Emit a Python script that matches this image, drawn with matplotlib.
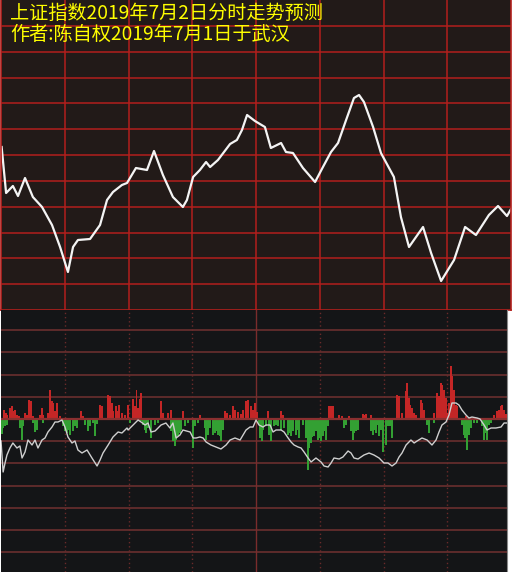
import matplotlib.pyplot as plt
import numpy as np

plt.rcParams['font.family'] = ['Noto Sans CJK SC', 'DejaVu Sans']

# forecast curve, minutes since open vs level
top_t = [0.3, 2.4, 5.6, 8, 11.3, 15, 19.3, 24, 27.8, 31.5, 33.9, 36.2, 41.9, 46.6, 49.9,
         52.7, 56.9, 59.3, 63.5, 68.7, 72, 76.2, 80.9, 85.6, 87.5, 90.4, 93.6, 96.5, 98.4,
         102.1, 107.8, 111, 113.4, 115.8, 119.5, 124.2, 127, 131.8, 134.1, 137.4, 142.1,
         147.8, 151.5, 155.3, 158.6, 162.4, 166.1, 168.5, 170.8, 175.1, 178.8, 184.9,
         188.2, 192, 198.6, 202.4, 207.1, 213.2, 218.4, 223.5, 229.6, 233.9, 238.1, 240]
top_v = [163, 117, 124, 114, 132, 113, 103, 85, 63, 38, 63, 70, 71, 85, 110,
         118, 125, 127, 142, 140, 159, 135, 113, 103, 110, 133, 140, 148, 143,
         150, 166, 170, 180, 195, 189, 183, 162, 167, 158, 157, 142,
         128, 143, 158, 167, 190, 212, 215, 208, 183, 157, 133,
         93, 63, 83, 57, 29, 50, 83, 75, 95, 104, 94, 101]

# lower panel line
net_t = [0, 1, 1.9, 2.8, 4.2, 5.6, 7.5, 8.9, 9.9, 11.3, 12.7, 14.6, 16, 17.4, 19.3, 20.7,
         22.1, 24, 25.4, 26.8, 28.7, 30.1, 31.5, 33.4, 34.8, 36.2, 38.1, 40.5, 42.8, 45.2,
         46.6, 48, 50.4, 52.7, 55.1, 56.9, 59.3, 59.8, 63.1, 64.5, 65.9, 67.8, 69.2, 70.6,
         72.5, 73.9, 75.3, 77.6, 79.5, 80.9, 82.4, 84.2, 85.6, 89, 90.4, 91.8, 93.6, 95.1,
         96.5, 98.8, 101.2, 103.5, 105.9, 107.8, 110.1, 112.5, 113.9, 115.3, 117.2, 118.6,
         120, 121.4, 123.3, 124.7, 126.6, 128, 129.4, 131.8, 133.2, 135.1, 136.5, 137.9,
         139.8, 141.2, 142.6, 144.5, 145.9, 148.2, 150.6, 152, 153.9, 155.3, 156.7, 159.1,
         160.9, 163.3, 164.7, 166.1, 168, 169.4, 170.8, 173.2, 175.5, 177.9, 180.2, 182.1,
         184, 185.9, 187.3, 188.7, 190.6, 192.9, 194.4, 195.8, 198.1, 200.5, 202.8, 204.7,
         206.1, 207.5, 209.4, 210.8, 212.2, 214.1, 215.5, 216.9, 218.8, 220.2, 221.6, 224,
         225.4, 227.3, 228.7, 230.6, 232.9, 235.3, 236.7, 238.1]
net_v = [-22, -53, -44, -36, -29, -24, -29, -27, -39, -33, -21, -26, -21, -29, -21, -19,
         -13, -8, -3, -3, -1, -8, -18, -24, -22, -31, -34, -31, -39, -47,
         -41, -34, -26, -18, -13, -14, -9, -11, -4, -1, -3, -6, -4, -13,
         -12, -9, -6, -4, -9, -4, -19, -16, -11, -13, -19, -19, -18, -19,
         -23, -26, -28, -30, -26, -21, -19, -21, -16, -11, -8, -8,
         -1, -6, -8, -6, -6, -13, -11, -11, -13, -19, -23, -26,
         -28, -29, -33, -39, -43, -39, -43, -47, -48, -44, -39, -40,
         -38, -32, -34, -39, -40, -38, -36, -34, -36, -39, -44, -44,
         -47, -44, -38, -34, -26, -21, -24, -22, -19, -21, -26, -21,
         -13, -6, -3, 4, 16, 16, 14, 9, 4, 1, 2, 1,
         0, -6, -11, -9, -9, -8, -4, -4]

red_t = [1.4, 2.4, 2.8, 4.2, 5.2, 5.6, 6.6, 7.5, 8.5, 11.3, 12.2, 13.2, 14.1, 15.1, 18.4,
         19.3, 19.8, 22.1, 23.1, 24, 24.5, 25.4, 26.4, 27.8, 37.6, 38.6, 46.6, 47.5, 50.4,
         51.3, 52.2, 52.7, 54.1, 54.6, 55.5, 56.9, 58.4, 59.8, 62.1, 63.1, 63.7, 64.5, 65.4,
         65.9, 75.3, 76.2, 78.6, 80, 85.6, 93.6, 105.4, 106.4, 107.8, 109.2, 110.1, 111.5,
         112.9, 113.9, 115.3, 116.2, 117.6, 118.6, 119.5, 120.5, 125.6, 131.8, 132.7, 154.4,
         155.3, 156.2, 159.1, 160.5, 163.8, 170.4, 170.8, 171.8, 174.2, 186.4, 187.3, 188.7,
         190.6, 191.1, 192, 192.5, 193.4, 194.4, 195.3, 197.6, 198.1, 199, 203.8, 205.2,
         206.1, 207.1, 207.5, 208.5, 209.4, 209.9, 210.8, 211.8, 212.2, 213.2, 214.1, 214.6,
         218.8, 232, 233.4, 234.4, 235.3, 235.8, 236.7, 237.6]
red_h = [9, 6, 4, 11, 13, 8, 9, 4, 3, 6, 4, 19, 18, 3, 4,
         11, 4, 6, 29, 18, 16, 8, 16, 3, 8, 3, 14, 13, 24,
         23, 16, 8, 13, 8, 14, 6, 4, 14, 20, 13, 29, 11, 20,
         26, 18, 6, 6, 9, 8, 4, 8, 6, 4, 13, 9, 7,
         5, 9, 18, 19, 13, 9, 16, 7, 8, 8, 4, 13,
         13, 13, 4, 3, 3, 5, 4, 5, 4, 24, 23, 6,
         28, 36, 21, 14, 11, 6, 4, 19, 16, 9, 6, 26,
         23, 36, 34, 29, 21, 6, 16, 53, 43, 29, 14, 13,
         3, 4, 8, 9, 13, 14, 9, 5]

green_t = [0.5, 0.9, 1.9, 2.8, 8.9, 9.9, 10.4, 15.1, 16, 16.9, 19.8, 29.2, 30.1, 31.1, 31.5,
           32.5, 33.9, 34.8, 35.8, 39.5, 40.9, 41.9, 43.3, 44.2, 45.2, 60.7, 65.9, 66.8,
           67.8, 68.2, 69.2, 70.6, 72.5, 73.9, 80, 80.9, 81.9, 82.4, 83.3, 84.2, 84.7, 86.6,
           88, 90.4, 91.3, 92.7, 96, 96.5, 97.4, 98.4, 99.8, 100.7, 101.2, 102.1, 103.1,
           103.5, 104.5, 121.4, 121.9, 122.8, 123.3, 124.7, 126.1, 127.1, 128.4, 129.4,
           130.3, 131.8, 133.2, 135.1, 135.5, 136.5, 137.4, 138.8, 139.8, 140.3, 142.1,
           143.5, 144.5, 144.9, 145.9, 146.4, 147.3, 148.2, 149.2, 149.6, 150.6, 151.5, 152,
           153, 153.9, 161.4, 162.4, 164.7, 165.6, 166.1, 167.1, 168, 174.2, 175.1, 175.5,
           176.5, 177.4, 177.9, 178.8, 179.8, 181.2, 182.1, 183.1, 184, 200.5, 201.4, 203.8,
           216.9, 217.9, 218.4, 219.3, 220.2, 221.2, 222.6, 224, 226.4, 227.3, 228.2, 228.7,
           229.6, 230.6]
green_h = [-15, -9, -7, -6, -9, -21, -7, -4, -13, -11, -4, -7, -12, -14, -11,
           -16, -12, -7, -9, -6, -12, -7, -4, -17, -5, -4, -2, -6,
           -11, -14, -9, -19, -6, -4, -12, -22, -27, -21, -17, -14, -11, -7,
           -4, -29, -7, -4, -9, -21, -16, -9, -16, -14, -12, -16, -17,
           -22, -11, -6, -19, -22, -11, -7, -16, -22, -7, -6,
           -7, -11, -9, -16, -14, -17, -12, -16, -11, -19, -6,
           -19, -51, -29, -24, -18, -17, -12, -21, -19, -22, -17, -12,
           -21, -7, -9, -6, -12, -21, -14, -12, -11, -12, -16, -11,
           -14, -6, -17, -11, -33, -26, -7, -7, -19, -6, -14, -4,
           -6, -16, -19, -31, -16, -9, -4, -4, -7, -21, -14, -21,
           -6, -4]

title1 = '上证指数2019年7月2日分时走势预测'
title2 = '作者:陈自权2019年7月1日于武汉'

W, H = 512, 572
fig = plt.figure(figsize=(W / 100, H / 100), dpi=100)
fig.patch.set_facecolor('white')

# upper panel
ax1 = fig.add_axes([1 / W, 1 - 310 / H, 510 / W, 310 / H])
ax1.set_facecolor('#221a18')
ax1.plot(top_t, top_v, color='#f4f4f4', lw=1.6, solid_joinstyle='round')
ax1.set_xlim(0, 240)
ax1.set_ylim(0, 310)
ax1.set_xticks(np.arange(30, 240, 30))
ax1.set_yticks(np.arange(1, 12) * 310 / 12)
ax1.grid(True, color='#b21f1c', lw=1.1)
ax1.tick_params(length=0, labelleft=False, labelbottom=False)
ax1.spines['top'].set_visible(False)
for s in ['left', 'right', 'bottom']:
    ax1.spines[s].set_color('#b21f1c')
    ax1.spines[s].set_linewidth(1.2)

# lower panel
ax2 = fig.add_axes([1 / W, 0, 506 / W, 262 / H])
ax2.set_facecolor('#141517')
ax2.set_xlim(0, 238.1)
ax2.set_ylim(-153, 109)
for k in range(-6, 5):
    if k == 0:
        continue
    ax2.axhline(k * 22.2, color='#5e2b2b', lw=1.4, zorder=1)
for m in range(30, 240, 30):
    if m == 120:
        ax2.axvline(m, color='#7a2c2c', lw=1.0, zorder=1)
    else:
        ax2.axvline(m, color='#6a2a2a', lw=1.0, ls=(0, (1, 2)), zorder=1)
ax2.bar(red_t, red_h, width=0.8, color='#c42626', zorder=2)
ax2.bar(green_t, green_h, width=0.8, color='#33a033', zorder=2)
ax2.axhline(0, color='#8a3030', lw=1.6, zorder=3)
ax2.plot(net_t, net_v, color='#cfcfcf', lw=1.0, zorder=4)
ax2.set_xticks([])
ax2.set_yticks([])
for s in ['left', 'top', 'bottom']:
    ax2.spines[s].set_visible(False)
ax2.spines['right'].set_color('#8a8a8a')

fig.text(10 / W, 1 - 13.5 / H, title1, color='#ffff00', fontsize=13.8, va='center', ha='left')
fig.text(10 / W, 1 - 34.5 / H, title2, color='#ffff00', fontsize=13.8, va='center', ha='left')

fig.savefig('out.png', dpi=100, facecolor='white')
